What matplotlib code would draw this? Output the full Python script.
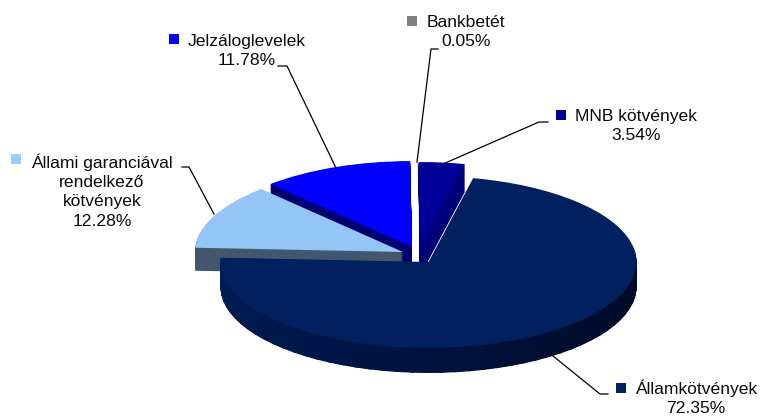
#!/usr/bin/env python3
# -*-coding:utf-8 -*

"""
3D looking pie of the portfolio shares, built from stacked squashed pies.
"""

import numpy as np
from matplotlib import pyplot as plt
from matplotlib.patches import Wedge

labels = ["Államkötvények", "Állami garanciával\nrendelkező\nkötvények",
          "Jelzáloglevelek", "Bankbetét", "MNB kötvények"]
shares = [72.35, 12.28, 11.78, 0.05, 3.54]

top_colors = ["#002060", "#94c5f7", "#0000ff", "#9090b0", "#000099"]
side_colors = [None, "#42566e", "#000070", "#9090b0", "#000078"]
marker_colors = ["#002060", "#99ccff", "#0000ff", "#808080", "#000099"]

# pixel positions of the picture
centers = [(428.5, 262), (403, 252), (412, 247), (419.5, 248), (420, 248)]
depths = [25, 23, 30, 0, 28]
draw_order = [3, 4, 2, 1, 0]
radius = 208
squash = 0.413
start = 77.6

# shading of the front rim of the big slice, by angle
rim_angles = [180, 225, 270, 315, 360]
rim_g = [30, 24, 18, 13, 10]
rim_b = [84, 76, 62, 48, 38]

text_xy = [(696, 398), (102, 191), (247, 51), (466, 32), (636, 126)]
marker_xy = [(621, 388), (16, 159), (174, 39), (412, 21), (561, 115)]
leaders = [[(608, 394), (600, 394), (553, 356)],
           [(182, 167), (189, 167), (214, 214)],
           [(278, 66), (287, 66), (336, 168)],
           [(438, 49), (431, 49), (417, 162)],
           [(548, 122), (539, 122), (443, 164)]]

W, H = 761, 417
fig = plt.figure(figsize=(W / 100, H / 100), dpi=100)


def rim_color(a):
    return (0, np.interp(a, rim_angles, rim_g) / 255, np.interp(a, rim_angles, rim_b) / 255)


# pie axes: y is stretched so a circle there comes out as a flat ellipse
ax = fig.add_axes([0, 0, 1, 1])
step = 0.5
for i in draw_order:
    cx, cy = centers[i]
    n = int(depths[i] / step)
    for k in range(n, -1, -1):
        wedges, _ = ax.pie(shares, colors=top_colors, startangle=start,
                           counterclock=False, radius=radius)
        for j, w in enumerate(wedges):
            if j != i:
                w.remove()
        w = wedges[i]
        center = (cx, (H - cy - k * step) / squash)
        w.set_center(center)
        w.set_edgecolor("none")
        w.set_zorder(draw_order.index(i) * 1000 + n - k)
        if k > 0:
            if side_colors[i] is None:
                # rim of the big slice goes darker from left to right
                w.set_visible(False)
                for a in np.arange(177, 368, 4):
                    seg = Wedge(center, radius, a, a + 5, facecolor=rim_color(a + 2),
                                edgecolor="none", zorder=w.get_zorder())
                    ax.add_patch(seg)
            else:
                w.set_facecolor(side_colors[i])
ax.set_aspect("auto")
ax.set_xlim(0, W)
ax.set_ylim(0, H / squash)
ax.axis("off")

# overlay in picture pixels for labels and leader lines
over = fig.add_axes([0, 0, 1, 1], facecolor="none")
over.set_xlim(0, W)
over.set_ylim(H, 0)
over.axis("off")

for i, label in enumerate(labels):
    pts = leaders[i]
    over.plot([p[0] for p in pts], [p[1] for p in pts], color="black", lw=0.9)
    over.plot(*marker_xy[i], marker="s", ms=6.6, mew=0, color=marker_colors[i])
    over.text(*text_xy[i], label + "\n%.2f%%" % shares[i], ha="center", va="center",
              family="Liberation Sans", fontsize=12.6, color="#0a0a0a", linespacing=1.35)

fig.savefig("out.png", dpi=100)
